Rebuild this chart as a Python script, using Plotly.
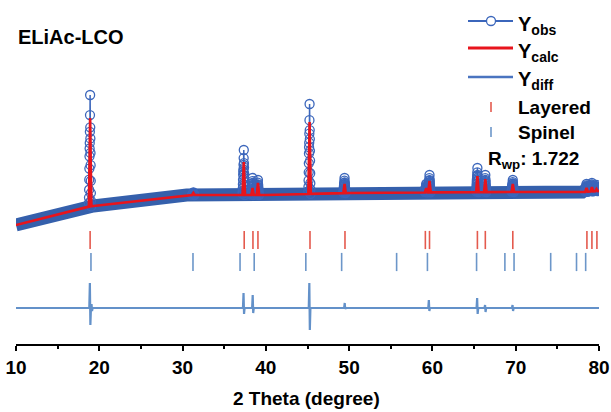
import numpy as np
import plotly.graph_objects as go

# ---------------- data ----------------
# background (calc) anchor points: 2theta (deg) and intensity (a.u.)
bg_deg = [10.0, 18.4, 19.3, 30.5, 40.0, 50.0, 60.0, 70.0, 78.0, 80.0]
bg_int = [4150, 5050, 5100, 5650, 5650, 5750, 5780, 5800, 5800, 5850]

# observed band (noisy data envelope centre)
band_deg = [10.0, 18.4, 19.3, 30.5, 40.0, 50.0, 60.0, 70.0, 78.0, 78.4, 79.0, 79.6, 80.0]
band_int = [4150, 5050, 5100, 5650, 5650, 5750, 5780, 5800, 5800, 5920, 5950, 5980, 5950]

# Bragg peaks seen in the pattern
peak_deg = [18.9, 31.3, 37.35, 38.4, 39.05, 45.25, 49.45, 59.25, 59.65, 65.4, 66.35, 69.65, 78.5, 79.15, 79.7]
calc_top = [9500, 5750, 7300, 6000, 6250, 9300, 6200, 6000, 6350, 6600, 6450, 6200, 6000, 6050, 5950]
obs_top = [10650, 5780, 7900, 6500, 6400, 10200, 6500, 6200, 6650, 7000, 6650, 6400, 6200, 6250, 6150]

# observed point profile across a peak (offset in deg, fraction of peak height)
obs_off = [-0.15, -0.135, -0.12, -0.105, -0.09, -0.075, -0.06, -0.045, -0.03, -0.015, 0.0,
           0.015, 0.03, 0.045, 0.06, 0.075, 0.09, 0.105, 0.12]
obs_frac = [0.03, 0.08, 0.15, 0.24, 0.34, 0.45, 0.52, 0.57, 0.67, 0.82, 1.0,
            0.71, 0.61, 0.48, 0.37, 0.23, 0.12, 0.05, 0.0]

# reflection markers
layered_deg = [18.9, 37.4, 38.45, 39.05, 45.3, 49.5, 59.15, 59.65, 65.4, 66.35, 69.65, 78.55, 79.15, 79.75]
spinel_deg = [19.0, 31.25, 36.9, 38.6, 44.8, 49.1, 55.7, 59.4, 65.3, 68.7, 69.8, 74.2, 77.3, 78.4]
layered_level = 3400
spinel_level = 2300

# difference curve features (position, up excursion, down excursion)
diff_deg = [18.9, 19.1, 37.35, 38.45, 45.25, 49.5, 59.6, 65.4, 66.35, 69.65]
diff_up = [1250, 200, 750, 650, 1250, 250, 400, 500, 150, 150]
diff_dn = [-850, -150, -300, -250, -1100, -50, -150, -300, -200, -150]
diff_base = 0

# ---------------- build curves ----------------
calc_pts = list(zip(bg_deg, bg_int))
hw = 0.15
for p, t in zip(peak_deg, calc_top):
    calc_pts.append((p - hw, float(np.interp(p - hw, bg_deg, bg_int))))
    calc_pts.append((p, t))
    calc_pts.append((p + hw, float(np.interp(p + hw, bg_deg, bg_int))))
calc_pts.sort()
calc_x = [a for a, b in calc_pts]
calc_y = [b for a, b in calc_pts]

obs_x, obs_y = [], []
for p, t in zip(peak_deg, obs_top):
    b = float(np.interp(p, bg_deg, bg_int))
    for o, f in zip(obs_off, obs_frac):
        obs_x.append(p + o)
        obs_y.append(b + f * (t - b))
    obs_x.append(None)
    obs_y.append(None)

dx, dy = [10.0], [diff_base]
for p, u, d in zip(diff_deg, diff_up, diff_dn):
    dx += [p - 0.1, p - 0.03, p + 0.03, p + 0.1]
    dy += [diff_base, diff_base + u, diff_base + d, diff_base]
dx.append(80.0)
dy.append(diff_base)

# ---------------- figure ----------------
BAND = "#3560ac"
OBS = "#3b66bb"
RED = "#e8141c"
LAY = "#e45a4e"
SPI = "#6c96c9"
DIFF = "#6391c9"
FONT = "Liberation Sans, Arial, sans-serif"

fig = go.Figure()
fig.add_trace(go.Scatter(x=band_deg, y=band_int, mode="lines",
                         line=dict(color=BAND, width=13), hoverinfo="skip"))
fig.add_trace(go.Scatter(x=obs_x, y=obs_y, mode="lines+markers",
                         line=dict(color=OBS, width=1.5),
                         marker=dict(symbol="circle-open", size=9, color=OBS,
                                     line=dict(width=1.3, color=OBS))))
fig.add_trace(go.Scatter(x=calc_x, y=calc_y, mode="lines",
                         line=dict(color=RED, width=2.6)))
fig.add_trace(go.Scatter(x=dx, y=dy, mode="lines", line=dict(color=DIFF, width=2.2)))
fig.add_trace(go.Scatter(x=layered_deg, y=[layered_level] * len(layered_deg), mode="markers",
                         marker=dict(symbol="line-ns", size=13, line=dict(color=LAY, width=1.6))))
fig.add_trace(go.Scatter(x=spinel_deg, y=[spinel_level] * len(spinel_deg), mode="markers",
                         marker=dict(symbol="line-ns", size=13, line=dict(color=SPI, width=1.6))))

# pixel helpers for decorations (plot area: x 16..599, y 0..344)
def xp(px):
    return (px - 16) / 583.0


def yp(py):
    return (344 - py) / 344.0


shapes = [
    dict(type="line", xref="paper", yref="paper", x0=xp(468), x1=xp(513), y0=yp(21), y1=yp(21),
         line=dict(color=OBS, width=2)),
    dict(type="circle", xref="paper", yref="paper", x0=xp(486.5), x1=xp(495.5), y0=yp(25.5), y1=yp(16.5),
         line=dict(color=OBS, width=1.3), fillcolor="white"),
    dict(type="line", xref="paper", yref="paper", x0=xp(468), x1=xp(513), y0=yp(48), y1=yp(48),
         line=dict(color=RED, width=3)),
    dict(type="line", xref="paper", yref="paper", x0=xp(468), x1=xp(513), y0=yp(77), y1=yp(77),
         line=dict(color="#4a74c0", width=2.5)),
    dict(type="line", xref="paper", yref="paper", x0=xp(491), x1=xp(491), y0=yp(102), y1=yp(112),
         line=dict(color=LAY, width=1.6)),
    dict(type="line", xref="paper", yref="paper", x0=xp(491), x1=xp(491), y0=yp(127), y1=yp(137),
         line=dict(color=SPI, width=1.6)),
]

def ann(text, px, py, size=19, xanchor="left"):
    return dict(text=text, xref="paper", yref="paper", x=xp(px), y=yp(py), showarrow=False,
                xanchor=xanchor, yanchor="middle",
                font=dict(family=FONT, size=size, color="black", weight="bold"))


annotations = [
    ann("ELiAc-LCO", 16, 37, size=20),
    ann("2 Theta (degree)", 306, 398, size=19, xanchor="center"),
    ann("Y<sub>obs</sub>", 516, 25, size=20),
    ann("Y<sub>calc</sub>", 516, 52, size=20),
    ann("Y<sub>diff</sub>", 516, 81, size=20),
    ann("Layered", 516, 107, size=19),
    ann("Spinel", 516, 132, size=19),
    ann("R<sub>wp</sub>: 1.722", 486, 160, size=19),
]

fig.update_layout(
    width=611, height=412,
    margin=dict(l=16, r=12, t=0, b=68),
    paper_bgcolor="white", plot_bgcolor="white",
    showlegend=False,
    shapes=shapes, annotations=annotations,
    xaxis=dict(range=[10, 80], tickmode="linear", tick0=10, dtick=10,
               ticks="outside", ticklen=5, tickwidth=1.5, tickcolor="black",
               showline=True, linecolor="black", linewidth=1.5,
               showgrid=False, zeroline=False,
               minor=dict(dtick=5, ticks="outside", ticklen=3, tickwidth=1.5, tickcolor="black"),
               tickfont=dict(family=FONT, size=19, color="black", weight="bold")),
    yaxis=dict(range=[-1800, 15400], visible=False, showgrid=False, zeroline=False),
)

fig.write_html("out.html")
